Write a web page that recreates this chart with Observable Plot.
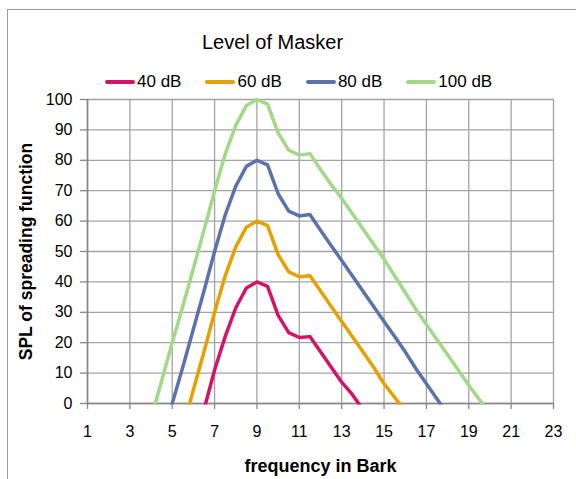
<!DOCTYPE html>
<html>
<head>
<meta charset="utf-8">
<script src="https://cdn.jsdelivr.net/npm/d3@7"></script>
<script src="https://cdn.jsdelivr.net/npm/@observablehq/plot@0.6"></script>
<style>
  html, body { margin: 0; padding: 0; background: #fff; }
  #wrap { position: relative; width: 576px; height: 479px; overflow: hidden; font-family: "Liberation Sans", Arial, sans-serif; color: #000; }
  #frame { position: absolute; left: 7px; top: 9px; right: -5px; bottom: -5px; border-left: 1px solid #9a9a9a; border-top: 1px solid #9a9a9a; }
  #title { position: absolute; left: 0; width: 545px; top: 32px; text-align: center; font-size: 20px; line-height: 20px; }
  #legend { position: absolute; left: 105px; top: 72px; display: flex; align-items: center; font-size: 17px; line-height: 20px; }
  .item { display: flex; align-items: center; margin-right: 24px; }
  .swatch { width: 30px; height: 4px; border-radius: 2px; margin-right: 2px; }
  #chart { position: absolute; left: 0; top: 90px; }
</style>
</head>
<body>
<div id="wrap">
  <div id="frame"></div>
  <div id="title"></div>
  <div id="legend"></div>
  <div id="chart"></div>
</div>
<script>
// ---- data ----
const titleText = "Level of Masker";
const xTitle = "frequency in Bark";
const yTitle = "SPL of spreading function";

const bark = [4, 4.5, 5, 5.5, 6, 6.5, 7, 7.5, 8, 8.5, 9, 9.5, 10, 10.5, 11, 11.5,
              12, 12.5, 13, 13.5, 14, 14.5, 15, 15.5, 16, 16.5, 17, 17.5, 18, 18.5, 19, 19.5, 20];

const db40 = [null, null, null, null, null, -2, 11, 22, 31.5, 38, 40, 38.5, 29, 23.3, 21.7, 22,
              17, 12, 7, 3, -2, null, null, null, null, null, null, null, null, null, null, null, null];
const db60 = [null, null, null, -8, 4.5, 17, 30, 42, 51.5, 58, 60, 58.5, 49, 43.3, 41.7, 42,
              37, 32, 27, 22, 17, 12, 6.5, 2, -2.5, null, null, null, null, null, null, null, null];
const db80 = [null, -12.5, 0, 12, 24.5, 37, 50, 62, 71.5, 78, 80, 78.5, 69, 63.3, 61.7, 62.2,
              57, 52, 47, 42, 37, 32, 27, 22, 17, 11.5, 6.5, 1.5, -3.5, null, null, null, null];
const db100 = [-5, 7.5, 20, 32, 44.5, 57, 70, 82, 91.5, 98, 100, 98.5, 89, 83.3, 81.7, 82.2,
               77, 72, 67.5, 62.5, 57.5, 52.5, 47.5, 42, 36.5, 31, 26, 21, 16, 11, 6, 1.3, -3.5];

const seriesNames = ["40 dB", "60 dB", "80 dB", "100 dB"];
const seriesColors = ["#d41367", "#e6a000", "#5b72ad", "#a2d987"];

const xTicks = [1, 3, 5, 7, 9, 11, 13, 15, 17, 19, 21, 23];
const yTicks = [0, 10, 20, 30, 40, 50, 60, 70, 80, 90, 100];

// ---- build table ----
const seriesValues = [db40, db60, db80, db100];
const rows = [];
seriesNames.forEach((name, k) => {
  bark.forEach((b, i) => {
    const v = seriesValues[k][i];
    if (v != null) rows.push({bark: b, spl: v, series: name});
  });
});

// ---- title & legend ----
document.getElementById("title").textContent = titleText;
const legend = d3.select("#legend");
seriesNames.forEach((name, k) => {
  const it = legend.append("div").attr("class", "item");
  it.append("div").attr("class", "swatch").style("background", seriesColors[k]);
  it.append("span").text(name);
});

// ---- chart ----
const gridColor = "#a3a3a3";
const axisColor = "#878787";
const chart = Plot.plot({
  width: 576,
  height: 389,
  marginLeft: 87,
  marginRight: 23,
  marginTop: 9,
  marginBottom: 76,
  style: {fontFamily: "'Liberation Sans', Arial, sans-serif", fontSize: "16px", color: "#000", background: "transparent", overflow: "visible"},
  x: {domain: [1, 23]},
  y: {domain: [0, 100]},
  color: {domain: seriesNames, range: seriesColors},
  marks: [
    Plot.gridY(yTicks, {stroke: gridColor, strokeOpacity: 1, strokeWidth: 1.3}),
    Plot.gridX(xTicks, {stroke: gridColor, strokeOpacity: 1, strokeWidth: 1.3}),
    Plot.ruleY([0], {stroke: axisColor, strokeWidth: 1.6}),
    Plot.ruleX([1], {stroke: axisColor, strokeWidth: 1.6}),
    Plot.axisX(xTicks, {tickSize: 6, tickPadding: 16, stroke: axisColor, strokeWidth: 1.3, label: null, fontSize: 16, fill: "#000"}),
    Plot.axisY(yTicks, {tickSize: 7, tickPadding: 8, stroke: axisColor, strokeWidth: 1.3, label: null, fontSize: 16, fill: "#000"}),
    Plot.line(rows, {x: "bark", y: "spl", z: "series", stroke: "series", strokeWidth: 3.5, clip: true}),
    Plot.text([xTitle], {frameAnchor: "bottom", lineAnchor: "middle", dy: 63, fontWeight: "bold", fontSize: 18, fill: "#000"}),
    Plot.text([yTitle], {frameAnchor: "left", textAnchor: "middle", lineAnchor: "middle", rotate: -90, dx: -61, fontWeight: "bold", fontSize: 17.5, fill: "#000"})
  ]
});
// let line strokes at the top (peak at 100) show fully, like the reference
d3.select(chart).selectAll("clipPath rect").each(function() {
  const r = d3.select(this);
  const y = +r.attr("y"), h = +r.attr("height");
  r.attr("y", y - 6).attr("height", h + 6 + 1.5);
});
document.getElementById("chart").appendChild(chart);
</script>
</body>
</html>
